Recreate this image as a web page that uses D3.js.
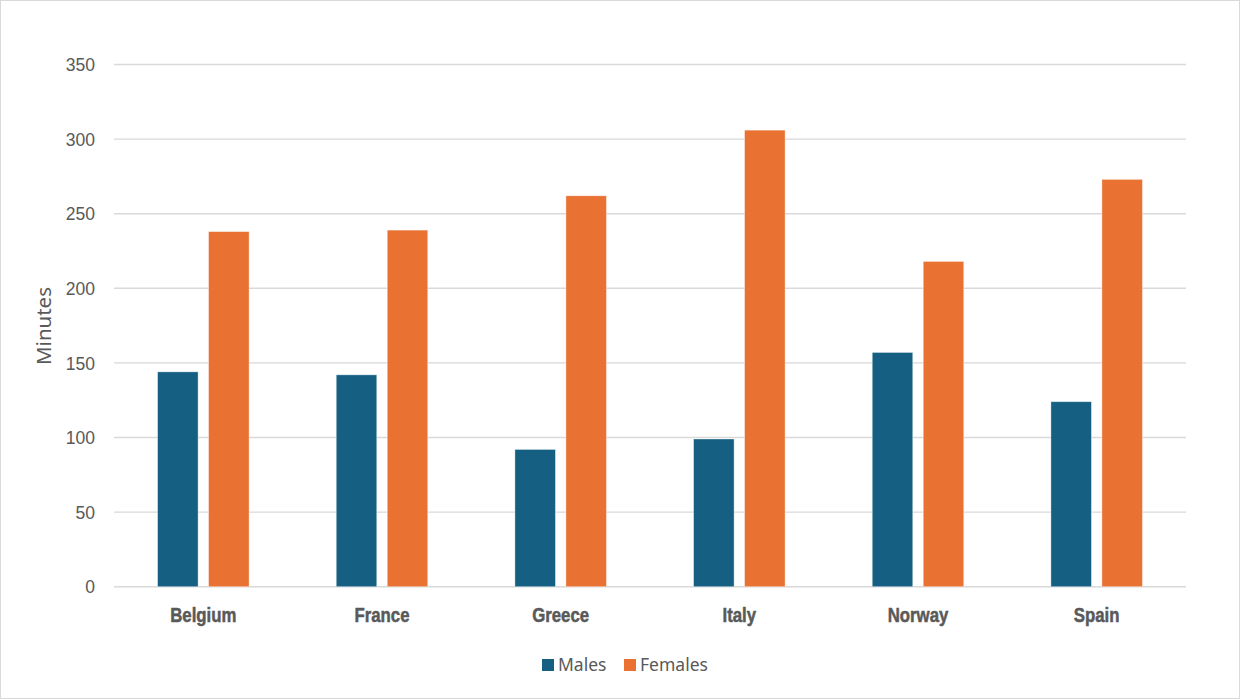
<!DOCTYPE html>
<html>
<head>
<meta charset="utf-8">
<script src="https://cdn.jsdelivr.net/npm/d3@7"></script>
<style>
  html, body { margin: 0; padding: 0; background: #fff; }
  svg { display: block; }
</style>
</head>
<body>
<svg id="chart" width="1240" height="699"></svg>
<script>
// Daily minutes spent on unpaid work, by country and sex
const countries = ["Belgium", "France", "Greece", "Italy", "Norway", "Spain"];
const males   = [144, 142, 92, 99, 157, 124];
const females = [238, 239, 262, 306, 218, 273];
const seriesNames = ["Males", "Females"];
const seriesColors = ["#156082", "#E97132"];
const yTicks = [0, 50, 100, 150, 200, 250, 300, 350];

const W = 1240, H = 699;
const margin = { left: 114, right: 54, top: 64.5, bottom: 112.3 };

const svg = d3.select("#chart");

// outer frame
svg.append("rect")
  .attr("x", 0.5).attr("y", 0.5)
  .attr("width", W - 1).attr("height", H - 1)
  .attr("fill", "#fff").attr("stroke", "#d9d9d9").attr("stroke-width", 1);

const x = d3.scaleBand()
  .domain(countries)
  .range([margin.left, W - margin.right])
  .paddingInner(0).paddingOuter(0);

const y = d3.scaleLinear()
  .domain([0, 350])
  .range([H - margin.bottom, margin.top]);

// horizontal gridlines
svg.append("g")
  .selectAll("line")
  .data(yTicks)
  .join("line")
  .attr("x1", margin.left)
  .attr("x2", W - margin.right)
  .attr("y1", d => y(d))
  .attr("y2", d => y(d))
  .attr("stroke", "#d9d9d9")
  .attr("stroke-width", 1.4);

// y axis labels
const yAxis = d3.axisLeft(y).tickValues(yTicks).tickSize(0).tickPadding(0);
const yg = svg.append("g")
  .attr("transform", `translate(${margin.left - 19},0)`)
  .call(yAxis);
yg.select(".domain").remove();
yg.selectAll("text")
  .attr("fill", "#595959")
  .style("font-family", "'Liberation Sans', Arial, sans-serif")
  .style("font-size", "17.5px")
  .attr("dy", "0.35em");

// axis title
svg.append("text")
  .attr("transform", `translate(51,326) rotate(-90)`)
  .attr("text-anchor", "middle")
  .attr("fill", "#595959")
  .style("font-family", "'Noto Sans', sans-serif")
  .style("font-size", "20.5px")
  .text("Minutes");

// bars: two series within each country band
const barW = 40.5, innerGap = 10.5;
const sub = d3.scaleOrdinal().domain(seriesNames)
  .range([-(barW + innerGap / 2), innerGap / 2]);
const rows = countries.map((c, i) => ({ c, vals: [males[i], females[i]] }));

const groups = svg.append("g")
  .selectAll("g")
  .data(rows)
  .join("g")
  .attr("transform", d => `translate(${x(d.c) + x.bandwidth() / 2},0)`);

groups.selectAll("rect")
  .data(d => d.vals.map((v, k) => ({ v, k })))
  .join("rect")
  .attr("x", d => sub(seriesNames[d.k]))
  .attr("width", barW)
  .attr("y", d => y(d.v))
  .attr("height", d => y(0) - y(d.v))
  .attr("fill", d => seriesColors[d.k])
  .attr("stroke", "#ffffff")
  .attr("stroke-opacity", 0.45)
  .attr("stroke-width", 0.8);

// category labels (condensed heavy face)
const xAxis = d3.axisBottom(x).tickSize(0).tickPadding(0);
const xg = svg.append("g")
  .attr("transform", `translate(0,${y(0) + 28})`)
  .call(xAxis);
xg.select(".domain").remove();
xg.selectAll("text")
  .attr("fill", "#595959")
  .attr("stroke", "#595959")
  .attr("stroke-width", 0.5)
  .attr("dy", "0.35em")
  .attr("y", 0)
  .attr("transform", "scale(0.84,1)")
  .style("font-family", "'Liberation Sans Narrow', 'Liberation Sans', Arial, sans-serif")
  .style("font-weight", "bold")
  .style("font-size", "20px");

// legend
const legend = svg.append("g").attr("transform", "translate(542,665)");
const legendX = [0, 82];
seriesNames.forEach((name, k) => {
  const g = legend.append("g").attr("transform", `translate(${legendX[k]},0)`);
  g.append("rect")
    .attr("x", 0).attr("y", -6)
    .attr("width", 12).attr("height", 12)
    .attr("fill", seriesColors[k]);
  g.append("text")
    .attr("x", 16).attr("y", 0)
    .attr("dy", "0.35em")
    .attr("fill", "#595959")
    .style("font-family", "'Noto Sans', sans-serif")
    .style("font-size", "17.5px")
    .text(name);
});
</script>
</body>
</html>
